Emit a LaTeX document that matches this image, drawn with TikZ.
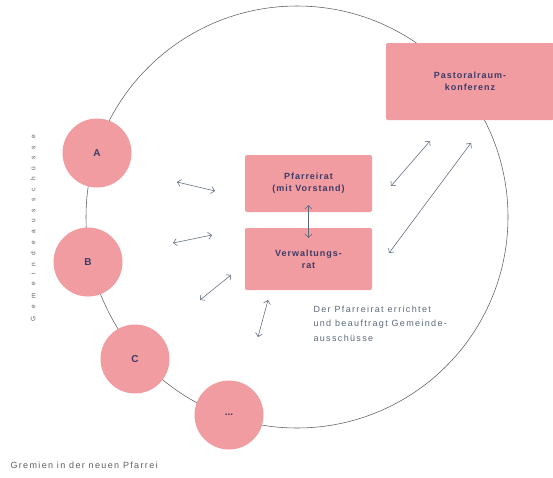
\documentclass[tikz,border=0pt]{standalone}
\usepackage{fontspec}
\setmainfont{Liberation Sans}
\usetikzlibrary{arrows.meta}
\definecolor{rosa}{HTML}{F09CA1}
\definecolor{tinte}{HTML}{3F3B66}
\definecolor{pfeilfarbe}{HTML}{5C6878}
\definecolor{linie}{HTML}{5E5E62}

\begin{document}
\begin{tikzpicture}[x=1pt, y=-1pt,
    gremium/.style={fill=rosa, rounded corners=2pt, text=tinte, align=center,
	font=\fontsize{9}{12}\selectfont\bfseries\addfontfeature{LetterSpace=11}},
    kreis/.style={circle, fill=rosa, minimum size=69pt, text=tinte,
	font=\fontsize{10}{12}\selectfont\bfseries},
    doppelpfeil/.style={pfeilfarbe, line width=0.55pt,
	{Straight Barb[length=3.5pt]}-{Straight Barb[length=3.5pt]}}]
    \useasboundingbox (0, 0) rectangle (553, 477);
    \draw[linie, line width=0.55pt] (297, 217) circle [radius=211];
    \node[gremium, minimum width=168pt, minimum height=77pt] (konferenz) at (470, 81.5)
	{Pastoralraum-\\konferenz};
    \node[gremium, minimum width=127pt, minimum height=57pt] (pfarreirat) at (308.5, 183.5)
	{Pfarreirat\\(mit Vorstand)};
    \node[gremium, minimum width=127pt, minimum height=62pt] (verwaltung) at (308.5, 259)
	{Verwaltungs-\\rat};
    \node[kreis] (a) at (97, 153) {A};
    \node[kreis] (b) at (88, 262) {B};
    \node[kreis] (c) at (135, 359) {C};
    \node[kreis] (weitere) at (229, 415) {...};
    % Pfeile
    \draw[doppelpfeil] ([yshift=7pt]pfarreirat.south) -- ([yshift=-10pt]verwaltung.north);
    \coordinate (a-links) at (177, 182);
    \coordinate (a-rechts) at (215, 191);
    \coordinate (b-links) at (173, 243);
    \coordinate (b-rechts) at (212, 235);
    \coordinate (c-links) at (200, 300);
    \coordinate (c-rechts) at (231, 275);
    \coordinate (w-unten) at (258, 337);
    \coordinate (w-oben) at (268, 300);
    \coordinate (p-links) at (391, 186);
    \coordinate (p-rechts) at (430, 141);
    \coordinate (v-links) at (389, 253);
    \coordinate (v-rechts) at (471, 143);
    \draw[doppelpfeil] (a-links) -- (a-rechts);
    \draw[doppelpfeil] (b-links) -- (b-rechts);
    \draw[doppelpfeil] (c-links) -- (c-rechts);
    \draw[doppelpfeil] (w-unten) -- (w-oben);
    \draw[doppelpfeil] (p-links) -- (p-rechts);
    \draw[doppelpfeil] (v-links) -- (v-rechts);
    % Texte
    \node[anchor=north west, align=left, text=pfeilfarbe,
	font=\fontsize{9}{14.5}\selectfont\addfontfeature{LetterSpace=15}] (hinweis) at (310, 302)
	{Der Pfarreirat errichtet\\und beauftragt Gemeinde-\\ausschüsse};
    \node[anchor=west, text=linie,
	font=\fontsize{9}{10}\selectfont\addfontfeature{LetterSpace=15}] (titel) at (7, 465)
	{Gremien in der neuen Pfarrei};
    \node[rotate=90, text=linie, font=\fontsize{6.5}{7}\selectfont] (ausschuesse) at (33, 228)
	{\makebox[186pt]{G\hfill e\hfill m\hfill e\hfill i\hfill n\hfill d\hfill e\hfill a\hfill
	u\hfill s\hfill s\hfill c\hfill h\hfill ü\hfill s\hfill s\hfill e}};
\end{tikzpicture}
\end{document}
